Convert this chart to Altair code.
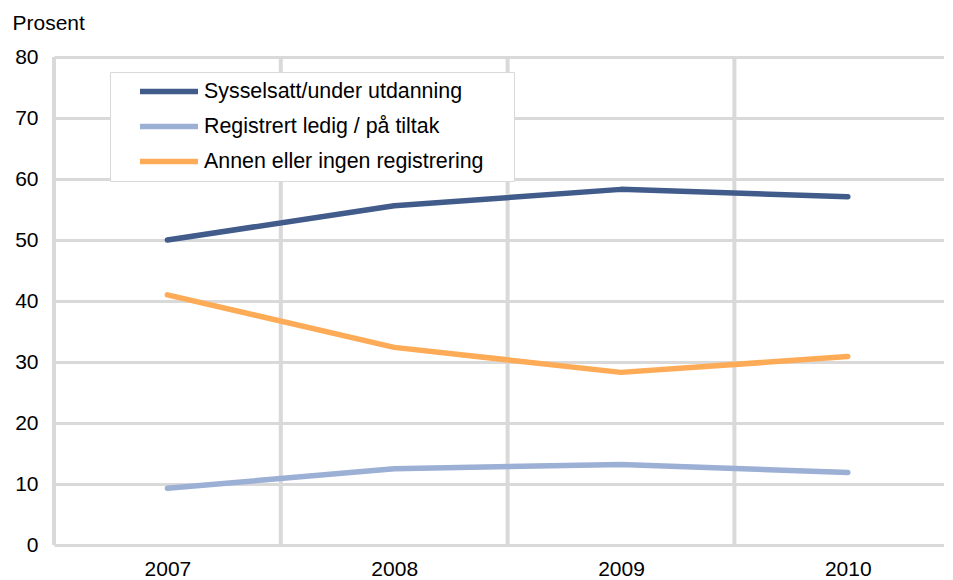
import altair as alt
import pandas as pd

years = [2007, 2008, 2009, 2010]
series_names = ["Sysselsatt/under utdanning", "Registrert ledig / på tiltak", "Annen eller ingen registrering"]
sysselsatt = [50.0, 55.6, 58.3, 57.1]
registrert = [9.3, 12.5, 13.2, 11.9]
annen = [41.0, 32.4, 28.3, 30.9]
colors = ["#415b8b", "#9cafd5", "#fdab57"]
y_ticks = [0, 10, 20, 30, 40, 50, 60, 70, 80]

rows = []
for name, vals in zip(series_names, [sysselsatt, registrert, annen]):
    for yr, v in zip(years, vals):
        rows.append({"year": yr, "value": v, "series": name})
df = pd.DataFrame(rows)

# category boundaries for vertical gridlines
bounds = pd.DataFrame({"b": [y - 0.5 for y in years]})

FONT = "Liberation Sans"
GRID = "#d9d9d9"
PX_PER_YEAR = 226.8
W = 890
H = 488
x_scale = alt.Scale(domain=[2006.5, 2006.5 + W / PX_PER_YEAR], nice=False, zero=False)

x_axis = alt.Axis(
    values=years, format="d", grid=False, ticks=False, domain=False,
    labelFontSize=21, labelFont=FONT, labelColor="#000000", labelPadding=13,
    title=None, labelFlush=False,
)

vgrid = alt.Chart(bounds).mark_rule(color=GRID, strokeWidth=4).encode(
    x=alt.X("b:Q", scale=x_scale, axis=x_axis)
)

lines = alt.Chart(df).mark_line(strokeWidth=5.5, strokeCap="round", strokeJoin="round").encode(
    x=alt.X("year:Q", scale=x_scale, axis=x_axis),
    y=alt.Y(
        "value:Q",
        scale=alt.Scale(domain=[0, 80], nice=False),
        axis=alt.Axis(
            values=y_ticks, grid=True, gridColor=GRID, gridWidth=3, ticks=False, domain=False,
            labelFontSize=21, labelFont=FONT, labelColor="#000000", labelPadding=16,
            title="Prosent", titleAngle=0, titleX=-42, titleY=-28, titleAlign="left",
            titleBaseline="alphabetic", titleFontSize=21, titleFont=FONT,
            titleFontWeight="normal", titleColor="#000000",
        ),
    ),
    color=alt.Color(
        "series:N",
        scale=alt.Scale(domain=series_names, range=colors),
        legend=alt.Legend(
            title="\u2800", titleOrient="right", titlePadding=6, titleFontSize=21,
            titleFont="DejaVu Sans", titleColor="#ffffff",
            orient="none", legendX=56, legendY=15,
            padding=8, strokeColor=GRID, fillColor="#ffffff",
            symbolType="stroke", symbolStrokeWidth=5.5, symbolSize=3364,
            symbolOffset=19, labelOffset=3, clipHeight=23, rowPadding=12,
            labelFontSize=21.4, labelFont=FONT, labelColor="#000000", labelLimit=400,
        ),
    ),
    order="year:Q",
)

chart = alt.layer(vgrid, lines).properties(
    width=W, height=H,
    autosize=alt.AutoSizeParams(type="none"),
    padding={"left": 46, "top": 49, "right": 0, "bottom": 35},
).configure_view(stroke=None).configure(background="#ffffff")

chart.save("out.html", embed_options={"renderer": "svg", "actions": False})
